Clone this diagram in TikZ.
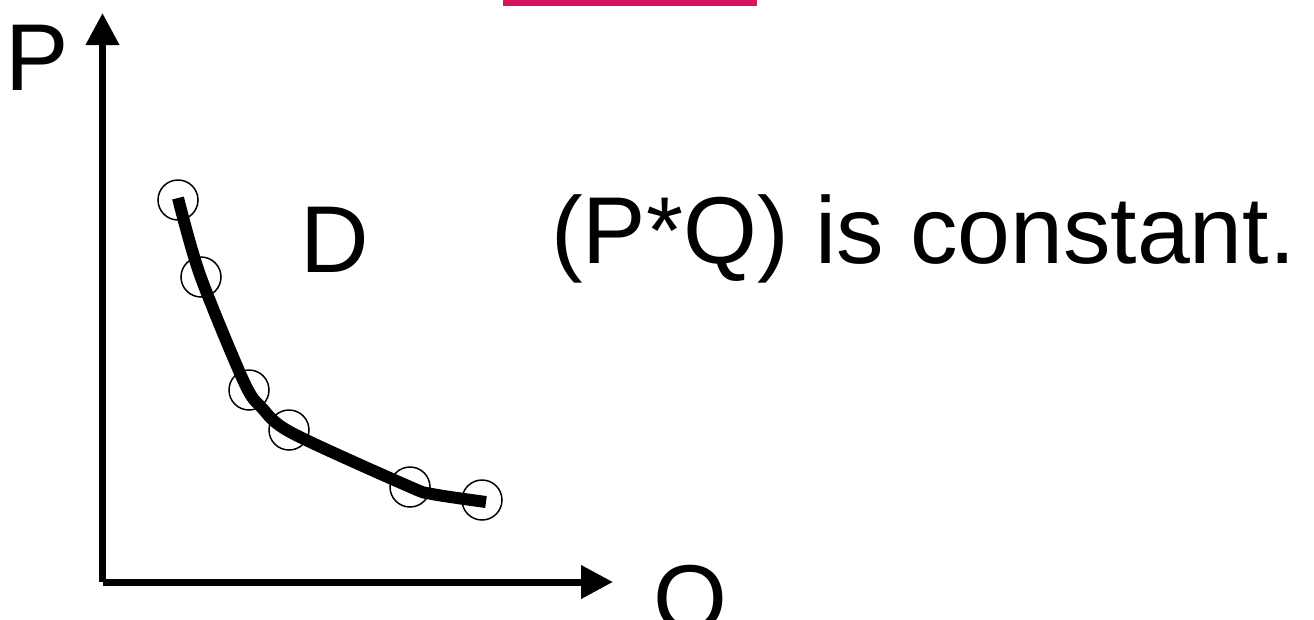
\documentclass[tikz,border=0pt]{standalone}
\usepackage{fontspec}
\setmainfont{Liberation Sans}
\usetikzlibrary{arrows.meta}
\definecolor{barpink}{RGB}{214,21,93}
\tikzset{
  axis/.style={line width=7pt, -{Triangle[length=32pt,width=32pt]}},
  lbl/.style={anchor=base west, inner sep=0pt, font=\fontsize{95}{110}\selectfont},
  ring/.style={circle, draw, line width=1.5pt, minimum size=40pt, inner sep=0pt},
  demand/.style={line width=12pt, line join=round}
}
\begin{document}
\begin{tikzpicture}[x=1pt,y=-1pt]
\useasboundingbox (0,0) rectangle (1314,619);
\fill[barpink] (503,0) rectangle (757,6);
\coordinate (o) at (102.5,582);
\coordinate (ytop) at (102.5,13);
\coordinate (xend) at (613,582);
\draw[axis] (o) -- (ytop);
\draw[axis] (o) -- (xend);
\node[lbl] (P) at (5,90) {P};
\node[lbl] (Q) at (653,631) {Q};
\node[lbl] (D) at (300,272) {D};
\node[lbl] (txt) at (551,263) {(P*Q) is constant.};
\node[ring] (c1) at (178,200) {};
\node[ring] (c2) at (201,277) {};
\node[ring] (c3) at (249,390) {};
\node[ring] (c4) at (289,430) {};
\node[ring] (c5) at (410,487) {};
\node[ring] (c6) at (482,500) {};
\draw[demand] plot[smooth, tension=0.5] coordinates {(178,198) (200,275) (244,382) (262,408) (292,433) (408,486) (432,494) (486,502)};
\end{tikzpicture}
\end{document}
